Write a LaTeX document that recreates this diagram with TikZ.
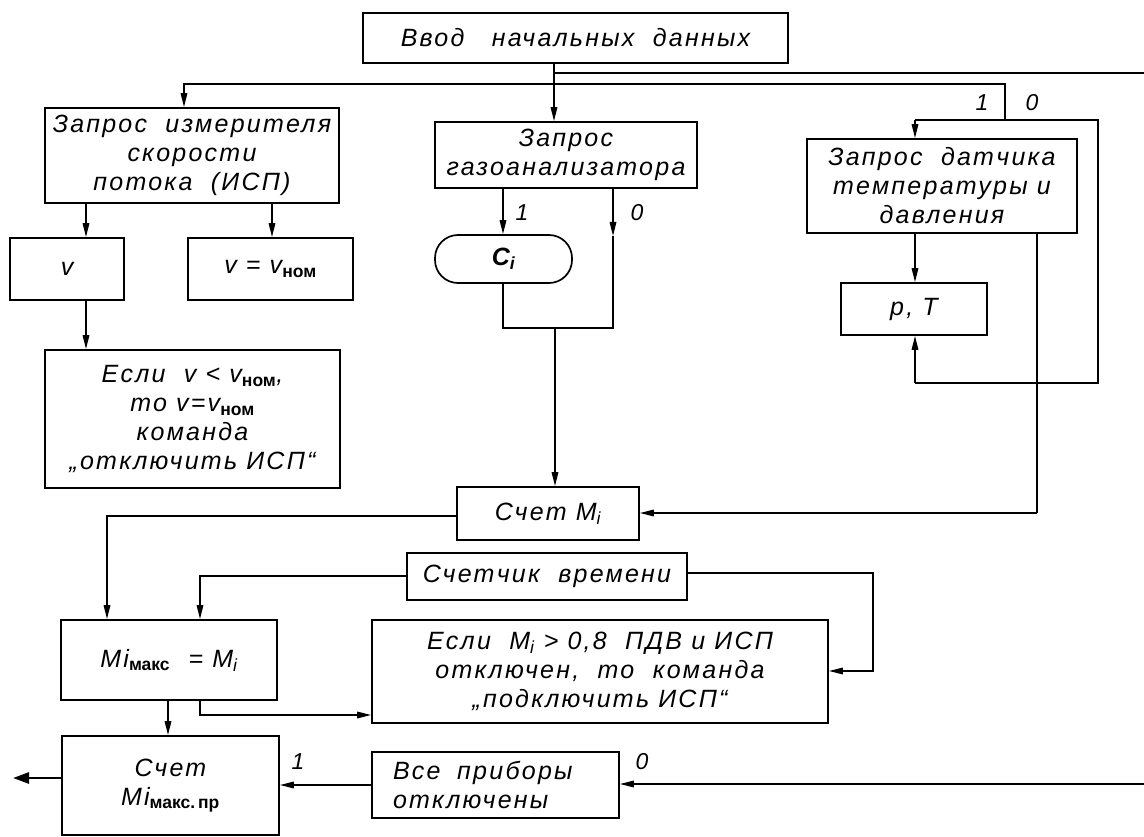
\documentclass[tikz,border=0pt]{standalone}
\usepackage{fontspec}
\newfontfamily\df{Liberation Sans}[LetterSpace=9]
\newfontfamily\subfont{Liberation Sans}
\usetikzlibrary{arrows.meta}
\newcommand{\mysub}[1]{\textsubscript{\subfont\upshape\bfseries #1}}
\begin{document}
\begin{tikzpicture}[x=1pt,y=-1pt,
  blk/.style={draw, line width=1.7pt, rectangle, inner sep=0pt, align=center,
    font=\df\itshape\fontsize{25}{29}\selectfont},
  ln/.style={line width=1.6pt},
  conn/.style={line width=1.6pt, -{Triangle[length=14pt,width=6.5pt]}},
  outarrow/.style={line width=2.8pt, -{Triangle[length=16pt,width=11pt]}},
  lbl/.style={font=\df\itshape\fontsize{23}{26}\selectfont, inner sep=0pt}]
\fill[white] (0,0) rectangle (1144,837);
\useasboundingbox (0,0) rectangle (1144,837);

% boxes
\node[blk, minimum width=425pt, minimum height=50pt] (top) at (575.5,38) {Ввод~~ начальных~ данных};
\node[blk, minimum width=294pt, minimum height=95pt] (isp) at (192,155.5) {Запрос~ измерителя\\скорости\\потока~ (ИСП)};
\node[blk, minimum width=114pt, minimum height=62pt] (v) at (67,269) {v};
\node[blk, minimum width=165pt, minimum height=62pt] (vnom) at (270.5,269) {v = v\mysub{ном}};
\node[blk, minimum width=295pt, minimum height=138pt] (esli1) at (192.5,419) {Если~ v < v\mysub{ном},\\то v=v\mysub{ном}\\команда\\„отключить ИСП“};
\node[blk, minimum width=262pt, minimum height=66pt] (gas) at (566,155) {Запрос\\газоанализатора};
\node[blk, minimum width=137pt, minimum height=48pt, rounded corners=23pt] (Ci) at (503.5,259) {\bfseries C\textsubscript{i}};
\node[blk, minimum width=270pt, minimum height=94pt] (sensor) at (942,186) {Запрос~ датчика\\температуры и\\давления};
\node[blk, minimum width=146pt, minimum height=52pt] (pT) at (914,309) {p, T};
\node[blk, minimum width=182pt, minimum height=53pt] (schetM) at (548,513.5) {Счет M\textsubscript{i}};
\node[blk, minimum width=280pt, minimum height=47pt] (timer) at (547,576.5) {Счетчик~ времени};
\node[blk, minimum width=216pt, minimum height=80pt] (mmax) at (169,660) {Mi\mysub{макс}~ = M\textsubscript{i}};
\node[blk, minimum width=456pt, minimum height=103pt] (esli2) at (600,671.5) {Если~ M\textsubscript{i} > 0,8~ ПДВ и ИСП\\отключен,~ то~ команда\\„подключить ИСП“};
\node[blk, minimum width=247pt, minimum height=66pt, text width=205pt, align=left] (all) at (495.5,785) {Все~ приборы\\отключены};
\node[blk, minimum width=217pt, minimum height=99pt] (schetmax) at (170.5,785.5) {Счет\\Mi\mysub{макс.\,пр}};

% coordinates
\coordinate (jx) at (554,84);
\coordinate (jl) at (184,84);
\coordinate (jr) at (1005,84);
\coordinate (ju) at (554,73);
\coordinate (tr) at (1144,73);
\coordinate (b10) at (1005,120);
\coordinate (b1) at (915,120);
\coordinate (b0) at (1098,120);
\coordinate (b0d) at (1098,383);
\coordinate (b1d) at (915,383);
\coordinate (ia) at (86,0);
\coordinate (ib) at (272,0);
\coordinate (ga) at (503,328);
\coordinate (gb) at (613,328);
\coordinate (gm) at (555,328);
\coordinate (gbm) at (613,236);
\coordinate (sm) at (1037,513);
\coordinate (ma) at (107,516);
\coordinate (mb) at (200,576);
\coordinate (tr1) at (873,573);
\coordinate (tr2) at (873,671);
\coordinate (mc) at (200,715);
\coordinate (md) at (168,0);
\coordinate (ae) at (0,785);
\coordinate (re) at (1144,784);
\coordinate (out) at (13,778);

% connectors
\draw[conn] (top.south -| jx) -- (gas.north -| jx);
\draw[conn] (jx) -- (jl) -- (isp.north -| jl);
\draw[ln] (ju) -- (tr);
\draw[ln] (jx) -- (jr) -- (b10);
\draw[ln] (b1) -- (b0) -- (b0d) -- (b1d);
\draw[conn] (b1d) -- (pT.south -| b1d);
\draw[conn] (b1) -- (sensor.north -| b1);
\draw[conn] (sensor.south -| b1) -- (pT.north -| b1);
\draw[ln] (sensor.south -| sm) -- (sm);
\draw[conn] (sm) -- (schetM.east |- sm);

\draw[conn] (isp.south -| ia) -- (v.north -| ia);
\draw[conn] (isp.south -| ib) -- (vnom.north -| ib);
\draw[conn] (v.south -| ia) -- (esli1.north -| ia);

\draw[conn] (gas.south -| ga) -- (Ci.north -| ga);
\draw[conn] (gas.south -| gb) -- (gbm);
\draw[ln] (gbm) -- (gb) -- (ga) -- (Ci.south -| ga);
\draw[conn] (gm) -- (schetM.north -| gm);

\draw[conn] (schetM.west |- ma) -- (ma) -- (mmax.north -| ma);
\draw[conn] (timer.west |- mb) -- (mb) -- (mmax.north -| mb);
\draw[conn] (timer.east |- tr1) -- (tr1) -- (tr2) -- (esli2.east |- tr2);
\draw[conn] (mmax.south -| mc) -- (mc) -- (esli2.west |- mc);
\draw[conn] (mmax.south -| md) -- (schetmax.north -| md);
\draw[conn] (all.west |- ae) -- (schetmax.east |- ae);
\draw[conn] (re) -- (all.east |- re);
\draw[outarrow] (schetmax.west |- out) -- (out);

% labels
\node[lbl] (l1a) at (982,103) {1};
\node[lbl] (l0a) at (1032,103) {0};
\node[lbl] (l1b) at (522,213) {1};
\node[lbl] (l0b) at (637,213) {0};
\node[lbl] (l1c) at (298,762) {1};
\node[lbl] (l0c) at (642,762) {0};
\end{tikzpicture}
\end{document}
